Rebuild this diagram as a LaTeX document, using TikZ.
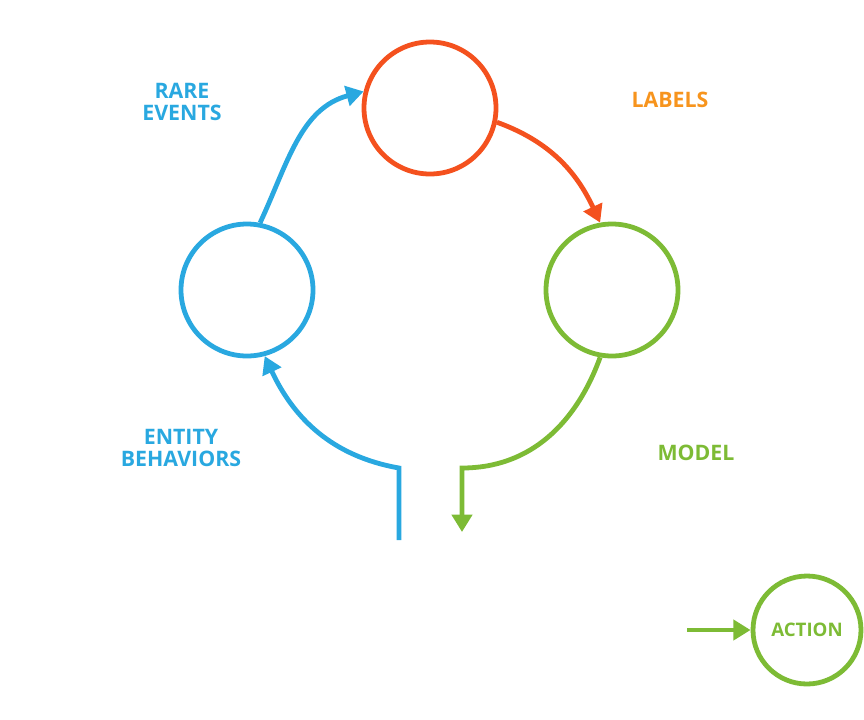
\documentclass[tikz,border=0pt]{standalone}
\usepackage{fontspec}
\setmainfont{Open Sans}
\usetikzlibrary{arrows.meta}
\definecolor{cblue}{HTML}{29A8E0}
\definecolor{cred}{HTML}{F4511E}
\definecolor{corange}{HTML}{F7941D}
\definecolor{cgreen}{HTML}{7DBB35}
\begin{document}
\begin{tikzpicture}[x=0.75pt,y=-0.75pt,
  ring/.style={circle,draw,line width=3.6pt,minimum size=132pt*0.75,inner sep=0pt},
  conn/.style={line width=3.6pt,-{Triangle[length=13pt,width=15pt]}},
  lab/.style={font=\bfseries\fontsize{16}{17}\selectfont,align=center}]
\useasboundingbox (0,0) rectangle (864,719);
\node[ring,cred] (r) at (430,108) {};
\node[ring,cblue] (b) at (247,290) {};
\node[ring,cgreen] (g) at (612,290) {};
\node[ring,cgreen,minimum size=108pt*0.75,font=\bfseries\fontsize{14}{15}\selectfont,text=cgreen] (a) at (807,630) {ACTION};
\coordinate (bs) at (399,540);
\coordinate (bk) at (399,468);
\coordinate (gk) at (462,468);
\coordinate (ge) at (462,532);
\coordinate (as) at (687,630);
\draw[conn,cblue] (b.79) to[out=65,in=195] (r.166);
\draw[conn,cred] (r.-12) to[out=-20,in=115] (g.100);
\draw[conn,cgreen] (g.-100) to[out=-110,in=0] (gk) -- (ge);
\draw[conn,cblue] (bs) -- (bk) to[out=170,in=-65] (b.-75);
\draw[conn,cgreen,-{Triangle[length=13pt,width=15pt]}] (as) -- (a.west);
\node[lab,text=cblue] (t1) at (182,102) {RARE\\EVENTS};
\node[lab,text=corange] (t2) at (670,100) {LABELS};
\node[lab,text=cblue] (t3) at (181,448) {ENTITY\\BEHAVIORS};
\node[lab,text=cgreen] (t4) at (696,453) {MODEL};
\end{tikzpicture}
\end{document}
